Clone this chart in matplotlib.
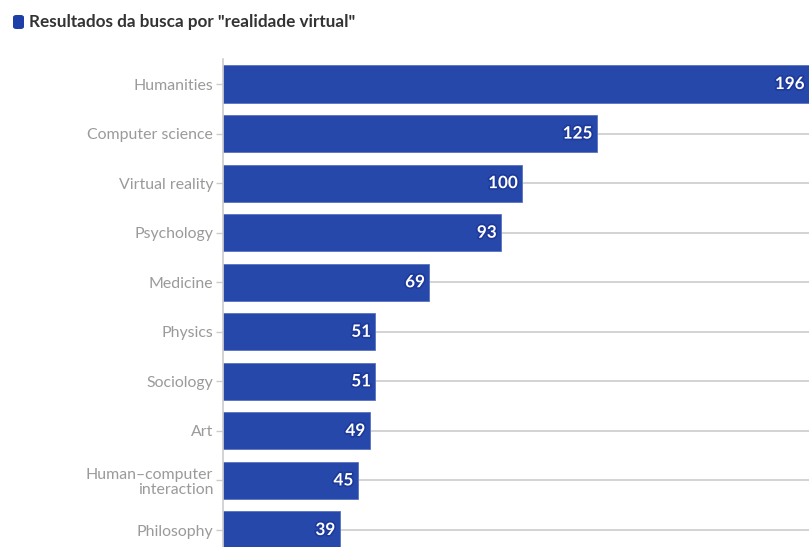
import matplotlib
matplotlib.use("Agg")
import matplotlib.pyplot as plt
import matplotlib.patheffects as pe
from matplotlib.patches import FancyBboxPatch

categories = ["Humanities", "Computer science", "Virtual reality", "Psychology",
              "Medicine", "Physics", "Sociology", "Art",
              "Human\u2013computer\ninteraction", "Philosophy"]
values = [196, 125, 100, 93, 69, 51, 51, 49, 45, 39]

bar_color = "#2748ab"
plt.rcParams['font.family'] = ['Lato', 'DejaVu Sans']

fig = plt.figure(figsize=(8.09, 5.47), dpi=100)
W, H = 809, 547
ax = fig.add_axes([223 / W, 0, 1 - 223 / W, (547 - 59.5) / H])

y = list(range(len(categories)))
for yi in y:
    ax.axhline(yi, color="#cccccc", lw=1.2, zorder=0)
bars = ax.barh(y, values, height=0.75, color=bar_color, edgecolor="#5b72c0",
               linewidth=0.6, zorder=2)

ax.set_xlim(0, 196)
ax.set_ylim(9.343, -0.495)
ax.set_yticks(y)
ax.set_yticklabels(categories, fontsize=11.4, color="#9a9a9a", linespacing=1.05)
ax.tick_params(axis="y", length=5, width=1, color="#cccccc", pad=2)
ax.set_xticks([])
for s in ["top", "right", "bottom"]:
    ax.spines[s].set_visible(False)
ax.spines["left"].set_color("#cccccc")
ax.spines["left"].set_linewidth(1.2)

for b, v in zip(bars, values):
    ax.annotate(str(v), xy=(v, b.get_y() + b.get_height() / 2),
                xytext=(-3, 0), textcoords="offset points",
                ha="right", va="center", fontsize=12.3, fontweight="bold",
                color="white", zorder=3,
                path_effects=[pe.withStroke(linewidth=2.5, foreground="#1d3a9a")])

fig.patches.append(FancyBboxPatch((13 / W, 1 - 29 / H), 11 / W, 14 / H,
                                  boxstyle="round,pad=0,rounding_size=0.004",
                                  transform=fig.transFigure, facecolor="#1f3fa8",
                                  edgecolor="none"))
fig.text(29 / W, 1 - 22 / H, 'Resultados da busca por "realidade virtual"',
         fontsize=12.3, fontweight="bold", color="#333333", va="center", ha="left")

fig.savefig("out.png", dpi=100)
